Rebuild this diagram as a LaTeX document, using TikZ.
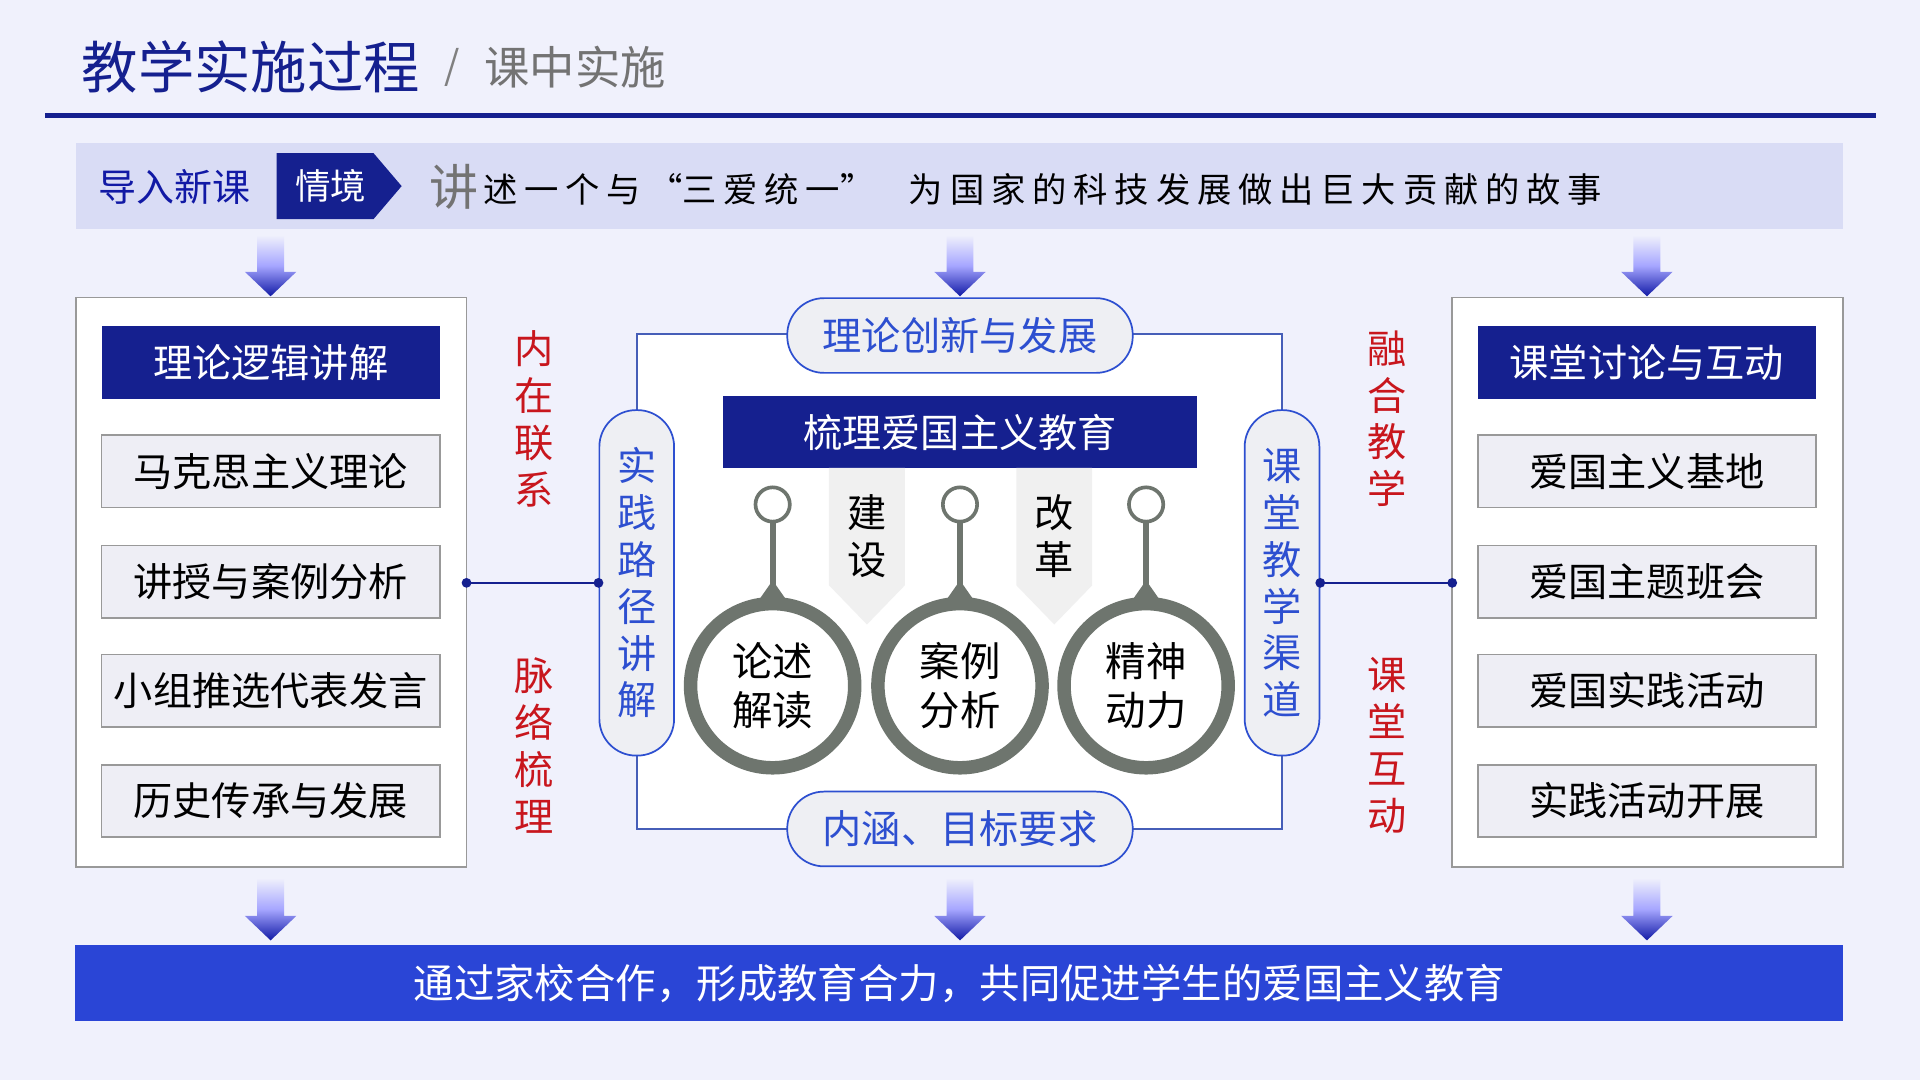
\documentclass[tikz,border=0pt]{standalone}
\usepackage{fontspec}
\setmainfont{Noto Sans CJK SC}
\usetikzlibrary{calc}
\definecolor{bg}{HTML}{F0F1FC}
\definecolor{navy}{HTML}{15208F}
\definecolor{band}{HTML}{D9DCF5}
\definecolor{bblue}{HTML}{2A45D6}
\definecolor{tblue}{HTML}{2D4FD0}
\definecolor{redt}{HTML}{C8161D}
\definecolor{ringc}{HTML}{6E756E}
\definecolor{pillc}{HTML}{EEEFF3}
\definecolor{itemc}{HTML}{EEEEF5}
\newcommand{\px}[1]{\fontsize{\fpeval{#1*0.2845}pt}{\fpeval{#1*0.34}pt}\selectfont}
\newcommand{\g}{\hspace{1.6pt}}
\tikzset{
 titlebox/.style={fill=navy,text=white,minimum width=2.76cm,minimum height=0.59cm,inner sep=0,font=\px{32}},
 item/.style={fill=itemc,draw=gray!80,text=black,minimum width=2.76cm,minimum height=0.59cm,inner sep=0,font=\px{32}},
 pill/.style={fill=pillc,draw=tblue,rounded corners=0.3cm,text=tblue,inner sep=0,font=\px{32}},
 redv/.style={text=redt,font=\px{32},align=center,inner sep=0},
 dot/.style={circle,fill=navy,inner sep=0,minimum size=0.08cm},
 conn/.style={draw=navy,line width=0.4pt},
}
\newcommand{\darrow}[3]{\shade[top color=bg,bottom color=navy!80!blue,middle color=blue!35]
 (#1-11,#2) -- (#1+11,#2) -- (#1+11,#3-20) -- (#1+21,#3-20) -- (#1,#3) -- (#1-21,#3-20) -- (#1-11,#3-20) -- cycle;}
\begin{document}
\begin{tikzpicture}[x=0.01cm,y=-0.01cm]
\fill[bg] (0,0) rectangle (1568,882);
\node[anchor=west,text=navy,font=\px{46},inner sep=0] (t1) at (66,55) {教学实施过程};
\node[anchor=west,text=gray,font=\px{32},inner sep=0] (t2) at (362,55) {/};
\node[anchor=west,text=gray!90!black,font=\px{37},inner sep=0] (t3) at (395,55) {课中实施};
\draw[navy,line width=4*0.2845pt] (37,94) -- (1532,94);
% intro band
\fill[band] (62,117) rectangle (1505,187);
\node[anchor=west,text=navy!80!blue,font=\px{31},inner sep=0] (intro) at (80,153) {导入新课};
\fill[navy] (226,125) -- (305,125) -- (328,152) -- (305,179) -- (226,179) -- cycle;
\node[text=white,font=\px{29},inner sep=0] (qj) at (270,152) {情境};
\node[anchor=west,text=gray!90!black,font=\px{40},inner sep=0] (j1) at (350,153) {讲};
\node[anchor=west,text=black,font=\px{28},inner sep=0] (j2) at (394,155) {述\g 一\g 个\g 与\g “三\g 爱\g 统\g 一”\quad 为\g 国\g 家\g 的\g 科\g 技\g 发\g 展\g 做\g 出\g 巨\g 大\g 贡\g 献\g 的\g 故\g 事};
% arrows
\darrow{221}{192}{242}\darrow{784}{192}{242}\darrow{1345}{192}{242}
\darrow{221}{717}{768}\darrow{784}{717}{768}\darrow{1345}{717}{768}
% left box
\draw[fill=white,draw=gray!80] (62,243) rectangle (381,708);
\node[titlebox] (lt) at (221,296) {理论逻辑讲解};
\node[item] (l1) at (221,385) {马克思主义理论};
\node[item] (l2) at (221,475) {讲授与案例分析};
\node[item] (l3) at (221,564) {小组推选代表发言};
\node[item] (l4) at (221,654) {历史传承与发展};
% right box
\draw[fill=white,draw=gray!80] (1186,243) rectangle (1505,708);
\node[titlebox] (rt) at (1345,296) {课堂讨论与互动};
\node[item] (r1) at (1345,385) {爱国主义基地};
\node[item] (r2) at (1345,475) {爱国主题班会};
\node[item] (r3) at (1345,564) {爱国实践活动};
\node[item] (r4) at (1345,654) {实践活动开展};
% red texts
\node[redv] (ra) at (436,342) {内\\在\\联\\系};
\node[redv] (rb) at (436,609) {脉\\络\\梳\\理};
\node[redv] (rc) at (1133,342) {融\\合\\教\\学};
\node[redv] (rd) at (1133,609) {课\\堂\\互\\动};
% center frame
\draw[fill=white,draw=tblue!70!gray,line width=0.4pt] (520,273) rectangle (1047,677);
\node[pill,minimum width=2.82cm,minimum height=0.61cm] (ptop) at (784,274) {理论创新与发展};
\node[pill,minimum width=2.82cm,minimum height=0.61cm] (pbot) at (784,677) {内涵、目标要求};
\node[pill,minimum width=0.61cm,minimum height=2.82cm,align=center] (pl) at (520,476) {实\\践\\路\\径\\讲\\解};
\node[pill,minimum width=0.61cm,minimum height=2.82cm,align=center] (pr) at (1047,476) {课\\堂\\教\\学\\渠\\道};
% connectors
\coordinate (lc) at (381,476); \coordinate (rc2) at (1186,476);
\draw[conn] (lc) -- (pl.west);
\draw[conn] (pr.east) -- (rc2);
\node[dot] at (lc) {}; \node[dot] at (pl.west) {};
\node[dot] at (pr.east) {}; \node[dot] at (rc2) {};
\node[fill=navy,text=white,minimum width=3.87cm,minimum height=0.59cm,inner sep=0,font=\px{32}] (nb) at (784,353) {梳理爱国主义教育};
% chevrons
\foreach \cx/\tx in {708/建\\设, 861/改\\革}{
 \fill[gray!12] (\cx-31,382) -- (\cx+31,382) -- (\cx+31,478) -- (\cx,510) -- (\cx-31,478) -- cycle;
 \node[text=black,font=\px{32},align=center,inner sep=0] at (\cx,438) {\tx};
}
% rings
\foreach \cx/\tx/\nm in {631/论述\\解读/ca, 784/案例\\分析/cb, 936/精神\\动力/cc}{
 \draw[ringc,line width=3*0.2845pt] (\cx,412) circle[radius=0.14cm];
 \draw[ringc,line width=5*0.2845pt] (\cx,426) -- (\cx,478);
 \fill[ringc] (\cx,474) -- (\cx+14,494) -- (\cx-14,494) -- cycle;
 \node[circle,draw=ringc,line width=11*0.2845pt,fill=white,minimum size=1.34cm,inner sep=0,text=black,font=\px{33},align=center] (\nm) at (\cx,560) {\tx};
}
% bottom band
\node[fill=bblue,text=white,minimum width=14.43cm,minimum height=0.62cm,inner sep=0,font=\px{33}] (bot) at (783.5,803) {通过家校合作，形成教育合力，共同促进学生的爱国主义教育};
\end{tikzpicture}
\end{document}
